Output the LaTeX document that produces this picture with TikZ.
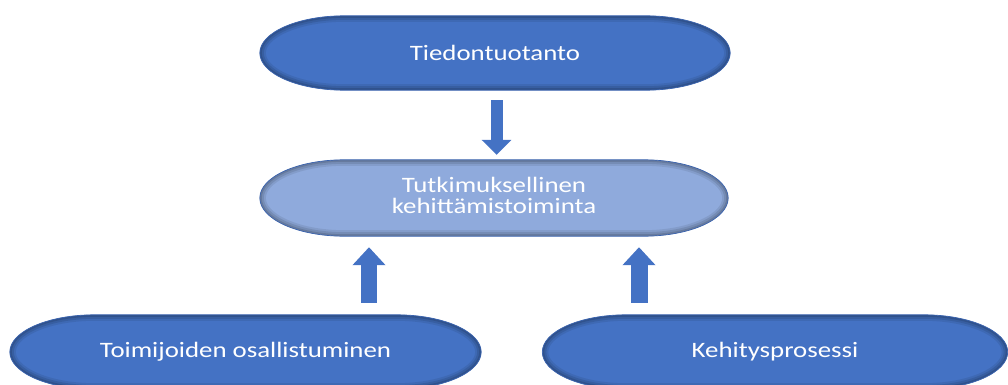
\documentclass[tikz,border=0pt]{standalone}
\usepackage{fontspec}
\setmainfont{Carlito}
\usetikzlibrary{calc,backgrounds,arrows.meta}

\definecolor{boxblue}{HTML}{4472C4}
\definecolor{lightblue}{HTML}{8FAADC}
\definecolor{edgeblue}{HTML}{3A63AE}

% widened white label text
\newcommand\wtext[1]{\scalebox{1.22}[1]{#1}}

% terminator outline (elliptical ends) fitted to a node's bounding box
\newcommand\termpath[1]{let \p1=(#1.south west), \p2=(#1.north east),
  \n1={0.18*(\x2-\x1)}, \n2={(\y2-\y1)/2} in
  (\x1+\n1,\y2) -- (\x2-\n1,\y2)
  arc[start angle=90,end angle=-90,x radius=\n1,y radius=\n2]
  -- (\x1+\n1,\y1)
  arc[start angle=270,end angle=90,x radius=\n1,y radius=\n2] -- cycle}

% filled terminator with a soft inner shadow at its lower right
\newcommand\termshape[2]{%
  \fill[#2] \termpath{#1};
  \begin{scope}
    \clip \termpath{#1};
    \draw[black,opacity=.08,line width=12pt,shift={(-6pt,5pt)}] \termpath{#1};
    \draw[black,opacity=.10,line width=8pt,shift={(-6pt,5pt)}] \termpath{#1};
    \draw[black,opacity=.12,line width=4pt,shift={(-6pt,5pt)}] \termpath{#1};
  \end{scope}
  \draw[edgeblue,line width=.7pt] \termpath{#1};}

\tikzset{
  termbox/.style={rectangle,inner sep=0pt,minimum width=#1,minimum height=74pt,
    text=white,font=\fontsize{22}{17.3}\selectfont,align=center},
  blockarrow/.style={draw=boxblue,line width=#1},
  bigtip/.style={-{Triangle[width=32pt,length=18pt]}},
  smalltip/.style={-{Triangle[width=29pt,length=15pt]}}
}

\begin{document}
\begin{tikzpicture}[x=1pt,y=-1pt]
  \useasboundingbox (0,0) rectangle (1008,385);
  \clip (0,0) rectangle (1008,385);

  \node[termbox=470pt] (top) at (495,53) {\wtext{Tiedontuotanto}};
  \node[termbox=468pt,minimum height=76pt] (mid) at (494,198)
    {\wtext{\begin{tabular}{@{}c@{}}Tutkimuksellinen\\kehittämistoiminta\end{tabular}}};
  \node[termbox=471pt] (bl) at (245.5,352) {\wtext{Toimijoiden osallistuminen}};
  \node[termbox=465pt] (br) at (775,352) {\wtext{Kehitysprosessi}};

  \begin{scope}[on background layer]
    \termshape{top}{boxblue}
    \termshape{mid}{lightblue}
    \termshape{bl}{boxblue}
    \termshape{br}{boxblue}
  \end{scope}

  % block arrows between the boxes
  \coordinate (a1s) at ($(top.south)+(1.5pt,-10pt)$);
  \coordinate (a1e) at ($(mid.north)+(2.5pt,5pt)$);
  \coordinate (a2s) at ($(bl.north)+(123.5pt,12pt)$);
  \coordinate (a2e) at ($(mid.south)+(-125pt,-11pt)$);
  \coordinate (a3s) at ($(br.north)+(-136pt,12pt)$);
  \coordinate (a3e) at ($(mid.south)+(145pt,-11pt)$);

  \draw[blockarrow=12pt,smalltip] (a1s) -- (a1e);
  \draw[blockarrow=16pt,bigtip] (a2s) -- (a2e);
  \draw[blockarrow=17pt,bigtip] (a3s) -- (a3e);
\end{tikzpicture}
\end{document}
